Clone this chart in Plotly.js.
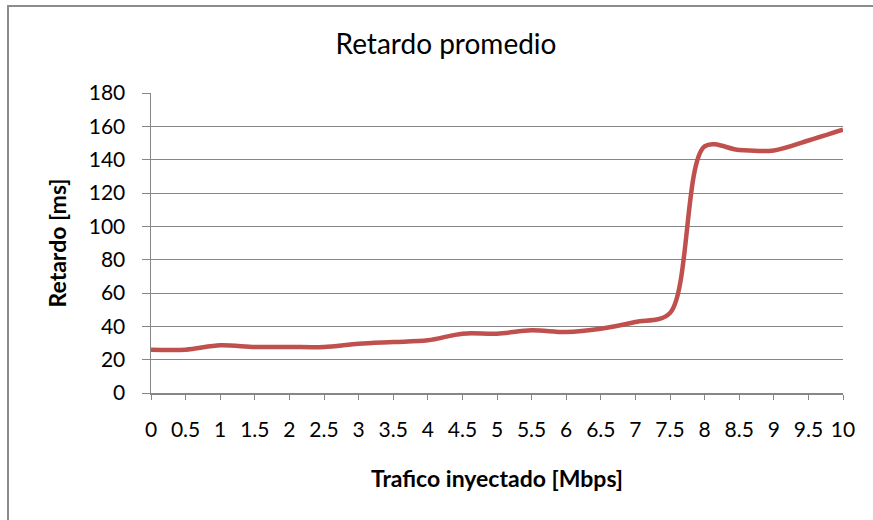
<!DOCTYPE html>
<html>
<head>
<meta charset="utf-8">
<script src="https://cdn.plot.ly/plotly-3.0.1.min.js"></script>
<style>html,body{margin:0;padding:0;background:#fff;}#chart{width:873px;height:520px;}</style>
</head>
<body>
<div id="chart"></div>
<script>
const traffic = [0, 0.5, 1, 1.5, 2, 2.5, 3, 3.5, 4, 4.5, 5, 5.5, 6, 6.5, 7, 7.5, 8, 8.5, 9, 9.5, 10];
const tickLabels = ["0","0.5","1","1.5","2","2.5","3","3.5","4","4.5","5","5.5","6","6.5","7","7.5","8","8.5","9","9.5","10"];
const delay = [26, 26, 28.6, 27.6, 27.6, 27.6, 29.6, 30.6, 31.6, 35.6, 35.6, 37.6, 36.6, 38.6, 42.6, 48, 148, 145.8, 145.5, 151.5, 158];
const yTicks = [0, 20, 40, 60, 80, 100, 120, 140, 160, 180];

const FONT = "Lato, 'Open Sans', sans-serif";
const grey = "#868686";

const trace = {
  x: traffic, y: delay, type: "scatter", mode: "lines",
  line: {color: "#C0504D", width: 4.5, shape: "spline", smoothing: 0.9},
  hoverinfo: "skip"
};

const layout = {
  width: 873, height: 520,
  margin: {l: 151, r: 30, t: 93, b: 127},
  paper_bgcolor: "#fff", plot_bgcolor: "#fff",
  showlegend: false,
  font: {family: FONT, color: "#000", size: 21},
  title: {text: "Retardo promedio", font: {family: FONT, size: 28, color: "#000"},
          x: 446/873, xref: "container", xanchor: "center", y: 1 - 44/520, yref: "container", yanchor: "middle"},
  xaxis: {
    range: [0, 10], tickvals: traffic, ticktext: tickLabels,
    showgrid: false, zeroline: false,
    showline: true, linecolor: grey, linewidth: 1.5,
    ticks: "outside", ticklen: 5, tickcolor: grey, tickwidth: 1,
    ticklabelstandoff: 12,
    tickfont: {family: FONT, size: 21, color: "#000"},
    title: {text: "<b>Trafico inyectado [Mbps]</b>", font: {family: FONT, size: 23, color: "#000"}, standoff: 31}
  },
  yaxis: {
    range: [0, 180], tickvals: yTicks,
    showgrid: true, gridcolor: grey, gridwidth: 1,
    zeroline: false,
    showline: true, linecolor: grey, linewidth: 1.5,
    ticks: "outside", ticklen: 8, tickcolor: grey, tickwidth: 1,
    ticklabelstandoff: 12,
    tickfont: {family: FONT, size: 21, color: "#000"},
    title: {text: "<b>Retardo [ms]</b>", font: {family: FONT, size: 23, color: "#000"}, standoff: 15}
  },
  shapes: [{
    type: "rect", xref: "paper", yref: "paper",
    x0: (8 - 151) / 692, x1: (900 - 151) / 692,
    y0: (393 - 540) / 300, y1: (393 - 6) / 300,
    line: {color: "#8c8c8c", width: 2}, fillcolor: "rgba(0,0,0,0)", layer: "below"
  }]
};

Plotly.newPlot("chart", [trace], layout, {displayModeBar: false, staticPlot: true});
</script>
</body>
</html>
